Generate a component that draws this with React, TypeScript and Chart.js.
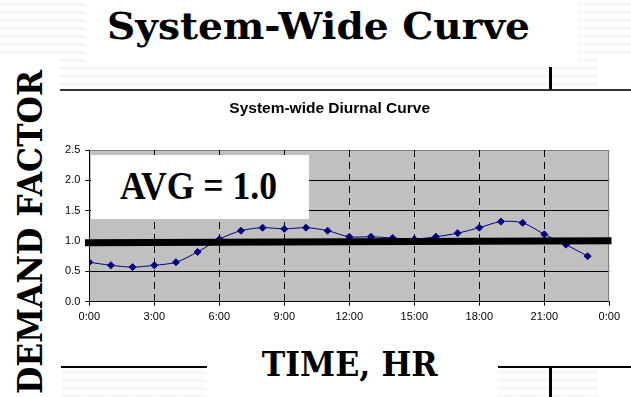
import React, { useEffect, useRef } from 'react';
import { Chart, registerables } from 'chart.js';

Chart.register(...registerables);

// ---- data ----
const hours = [0, 1, 2, 3, 4, 5, 6, 7, 8, 9, 10, 11, 12, 13, 14, 15, 16, 17, 18, 19, 20, 21, 22, 23];
const demandFactor = [0.65, 0.6, 0.57, 0.6, 0.65, 0.82, 1.03, 1.17, 1.22, 1.2, 1.22, 1.17, 1.07, 1.07, 1.05, 1.03, 1.07, 1.13, 1.22, 1.32, 1.3, 1.11, 0.94, 0.75];
const avgLineHours = [-0.2, 24.1];
const avgLineValues = [0.97, 1.005];
const xTickLabels = ['0:00', '3:00', '6:00', '9:00', '12:00', '15:00', '18:00', '21:00', '0:00'];
const yTickLabels = ['0.0', '0.5', '1.0', '1.5', '2.0', '2.5'];
const chartTitle = 'System-wide Diurnal Curve';
const slideTitle = 'System-Wide Curve';
const yAxisTitle = 'DEMAND FACTOR';
const xAxisTitle = 'TIME, HR';
const avgNote = 'AVG = 1.0';

const W = 631;
const H = 397;

const plotFrame = {
  id: 'plotFrame',
  beforeDraw(chart: any) {
    const { ctx, chartArea: a } = chart;
    ctx.save();
    ctx.fillStyle = '#c0c0c0';
    ctx.fillRect(a.left, a.top, a.right - a.left, a.bottom - a.top);
    ctx.restore();
  },
  beforeDatasetsDraw(chart: any) {
    const { ctx, chartArea: a } = chart;
    const xs = chart.scales.x;
    ctx.save();
    ctx.lineWidth = 1;
    ctx.strokeStyle = '#000';
    ctx.setLineDash([7, 5]);
    xs.ticks.forEach((t: any, i: number) => {
      if (i === 0 || i === xs.ticks.length - 1) return;
      const px = Math.round(xs.getPixelForValue(t.value)) + 0.5;
      ctx.beginPath();
      ctx.moveTo(px, a.top);
      ctx.lineTo(px, a.bottom);
      ctx.stroke();
    });
    ctx.setLineDash([]);
    ctx.strokeStyle = '#808080';
    const rx = Math.round(a.right) - 0.5;
    ctx.beginPath();
    ctx.moveTo(rx, a.top);
    ctx.lineTo(rx, a.bottom);
    ctx.stroke();
    ctx.restore();
  },
};

function DemandChart() {
  const ref = useRef<HTMLCanvasElement | null>(null);
  useEffect(() => {
    if (!ref.current) return;
    const chart = new Chart(ref.current, {
      type: 'line',
      data: {
        datasets: [
          {
            label: 'Average',
            data: avgLineHours.map((h, i) => ({ x: h, y: avgLineValues[i] })),
            borderColor: '#000',
            borderWidth: 7,
            borderCapStyle: 'butt',
            pointRadius: 0,
            clip: false,
            order: 0,
          } as any,
          {
            label: 'Demand factor',
            data: hours.map((h, i) => ({ x: h, y: demandFactor[i] })),
            borderColor: '#000080',
            backgroundColor: '#000080',
            borderWidth: 1,
            pointStyle: 'rectRot',
            pointRadius: 3.5,
            pointBackgroundColor: '#000080',
            pointBorderColor: '#000080',
            pointBorderWidth: 1,
            tension: 0.3,
            order: 1,
          } as any,
        ],
      },
      options: {
        responsive: false,
        animation: false,
        devicePixelRatio: 1,
        events: [],
        layout: { padding: { top: 99.6, left: 50, right: 21.7, bottom: 65.3 } },
        plugins: {
          legend: { display: false },
          tooltip: { enabled: false },
          title: {
            display: true,
            text: chartTitle,
            color: '#000',
            font: { family: "'Liberation Sans', Arial, sans-serif", size: 15.5, weight: 'bold' },
            padding: { top: 0, bottom: 31.8 },
          },
        },
        scales: {
          x: {
            type: 'linear',
            min: 0,
            max: 24,
            afterFit(scale: any) {
              scale.height = 30;
            },
            ticks: {
              stepSize: 3,
              autoSkip: false,
              maxRotation: 0,
              padding: 5,
              color: '#000',
              font: { family: "'Liberation Sans', Arial, sans-serif", size: 11 },
              callback: (_v: any, i: number) => xTickLabels[i],
            },
            grid: { drawOnChartArea: false, drawTicks: true, tickLength: 4, color: '#000' },
            border: { display: true, color: '#000', width: 1 },
          },
          y: {
            type: 'linear',
            min: 0,
            max: 2.5,
            afterFit(scale: any) {
              scale.width = 39.3;
            },
            ticks: {
              stepSize: 0.5,
              padding: 5,
              color: '#000',
              font: { family: "'Liberation Sans', Arial, sans-serif", size: 11 },
              callback: (_v: any, i: number) => yTickLabels[i],
            },
            grid: {
              drawTicks: true,
              tickLength: 4,
              color: (c: any) => (c.tick && c.tick.value === 2.5 ? '#808080' : '#000'),
              tickColor: '#000',
            },
            border: { display: true, color: '#000', width: 1 },
          },
        },
      } as any,
      plugins: [plotFrame],
    });
    return () => chart.destroy();
  }, []);
  return (
    <canvas
      ref={ref}
      width={W}
      height={H}
      style={{ position: 'absolute', left: 0, top: 0, width: W, height: H }}
    />
  );
}

const serif = "'DejaVu Serif', 'Liberation Serif', serif";
const serif2 = "'Liberation Serif', 'Times New Roman', serif";

export default function App() {
  return (
    <div style={{ position: 'absolute', left: 0, top: 0, width: W, height: H, background: '#fff', overflow: 'hidden' }}>
      <svg width={W} height={H} style={{ position: 'absolute', left: 0, top: 0 }}>
        <defs>
          <pattern id="zig" width="6" height="8" patternUnits="userSpaceOnUse">
            <path d="M0 6 L1.5 3 L3 6 L4.5 3 L6 6" fill="none" stroke="#ececec" strokeWidth="0.8" />
          </pattern>
        </defs>
        <rect x={0} y={0} width={W} height={90} fill="url(#zig)" />
        <rect x={85} y={0} width={492} height={66} fill="#fff" />
        <rect x={0} y={58} width={60} height={H - 58} fill="#fff" />
        <rect x={598} y={58} width={W - 598} height={32} fill="#fff" />
        <rect x={61} y={368} width={146} height={29} fill="url(#zig)" />
        <rect x={498} y={368} width={100} height={29} fill="url(#zig)" />
        <line x1={60} y1={90} x2={W} y2={90} stroke="#333" strokeWidth={2} />
        <line x1={550.5} y1={67} x2={550.5} y2={90} stroke="#000" strokeWidth={3} />
        <line x1={61} y1={367} x2={207} y2={367} stroke="#000" strokeWidth={2} />
        <line x1={498} y1={367} x2={W} y2={367} stroke="#000" strokeWidth={2} />
        <line x1={550.5} y1={367} x2={550.5} y2={H} stroke="#000" strokeWidth={3} />
        <text x={107} y={39.3} fontFamily={serif} fontWeight="bold" fontSize={37} textLength={423} lengthAdjust="spacingAndGlyphs" fill="#000">
          {slideTitle}
        </text>
        <text x={261.7} y={376} fontFamily={serif} fontWeight="bold" fontSize={33} textLength={176} lengthAdjust="spacingAndGlyphs" fill="#000">
          {xAxisTitle}
        </text>
        <text x={0} y={0} transform="translate(42 394) rotate(-90)" fontFamily={serif} fontWeight="bold" fontSize={34} textLength={324} lengthAdjust="spacingAndGlyphs" fill="#000">
          {yAxisTitle}
        </text>
      </svg>
      <DemandChart />
      <svg width={W} height={H} style={{ position: 'absolute', left: 0, top: 0, pointerEvents: 'none' }}>
        <rect x={91} y={155} width={218} height={64} fill="#fff" />
        <text x={120} y={199.3} fontFamily={serif2} fontWeight="bold" fontSize={40} textLength={157} lengthAdjust="spacingAndGlyphs" fill="#000">
          {avgNote}
        </text>
      </svg>
    </div>
  );
}
